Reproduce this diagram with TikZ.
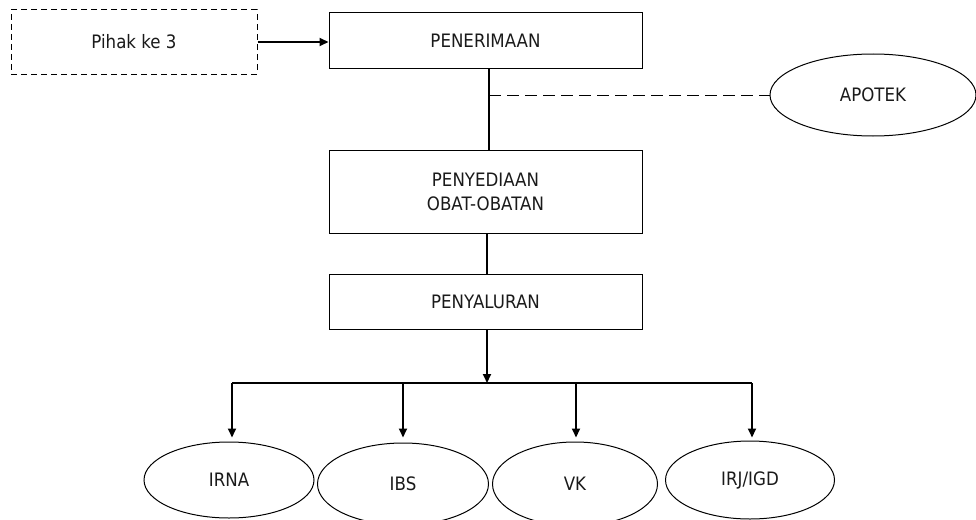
\documentclass[tikz,border=0pt]{standalone}
\usepackage{fontspec}
\setmainfont[FakeStretch=0.9]{DejaVu Sans}
\usetikzlibrary{arrows.meta,shapes.geometric}

\definecolor{ink}{HTML}{1A1A1A}

\tikzset{
  label font/.style={font=\fontsize{18.5}{24}\selectfont, text=ink},
  box/.style={draw, line width=1pt, rectangle, inner sep=0pt, align=center, label font},
  dashbox/.style={box, dash pattern=on 6pt off 4pt},
  oval/.style={draw, line width=1pt, ellipse, inner sep=0pt, label font},
  link/.style={line width=1.8pt},
  flow/.style={link, -{Triangle[length=9pt,width=8pt]}},
  dashlink/.style={line width=1pt, dash pattern=on 12pt off 6pt},
}

\begin{document}
\begin{tikzpicture}[x=1pt,y=-1pt]
\useasboundingbox (0,0) rectangle (976,519);

% process boxes
\node[dashbox, minimum width=246pt, minimum height=64pt] (pihak) at (134,42) {Pihak ke 3};
\node[box, minimum width=313pt, minimum height=55pt] (terima) at (485.5,40.5) {PENERIMAAN};
\node[box, minimum width=313pt, minimum height=83pt] (sedia) at (485.5,191.5) {PENYEDIAAN\\OBAT-OBATAN};
\node[box, minimum width=313pt, minimum height=55pt] (salur) at (485.5,301.5) {PENYALURAN};

% units
\node[oval, minimum width=206pt, minimum height=82pt] (apotek) at (873,95) {APOTEK};
\node[oval, minimum width=170pt, minimum height=76pt] (irna) at (229,480) {IRNA};
\node[oval, minimum width=171pt, minimum height=82pt] (ibs) at (403,484) {IBS};
\node[oval, minimum width=165pt, minimum height=84pt] (vk) at (575,484) {VK};
\node[oval, minimum width=169pt, minimum height=78pt] (irj) at (750,480) {IRJ/IGD};

% junction points
\coordinate (tap) at (489,95);
\coordinate (hub) at (487,383);
\coordinate (bl) at (232,383);
\coordinate (bm) at (403,383);
\coordinate (bn) at (576,383);
\coordinate (br) at (752,383);

% connectors
\draw[flow] (pihak.east) -- (pihak.east -| terima.west);
\draw[link] (terima.south -| tap) -- (sedia.north -| tap);
\draw[dashlink] (tap) -- (apotek.west);
\draw[link] (sedia.south -| hub) -- (salur.north -| hub);
\draw[flow] (salur.south -| hub) -- (hub);
\draw[link] (bl) -- (br);
\draw[flow, shorten >=4pt] (bl) -- (bl |- irna.north);
\draw[flow, shorten >=5pt] (bm) -- (bm |- ibs.north);
\draw[flow, shorten >=4pt] (bn) -- (bn |- vk.north);
\draw[flow, shorten >=3pt] (br) -- (br |- irj.north);
\end{tikzpicture}
\end{document}
